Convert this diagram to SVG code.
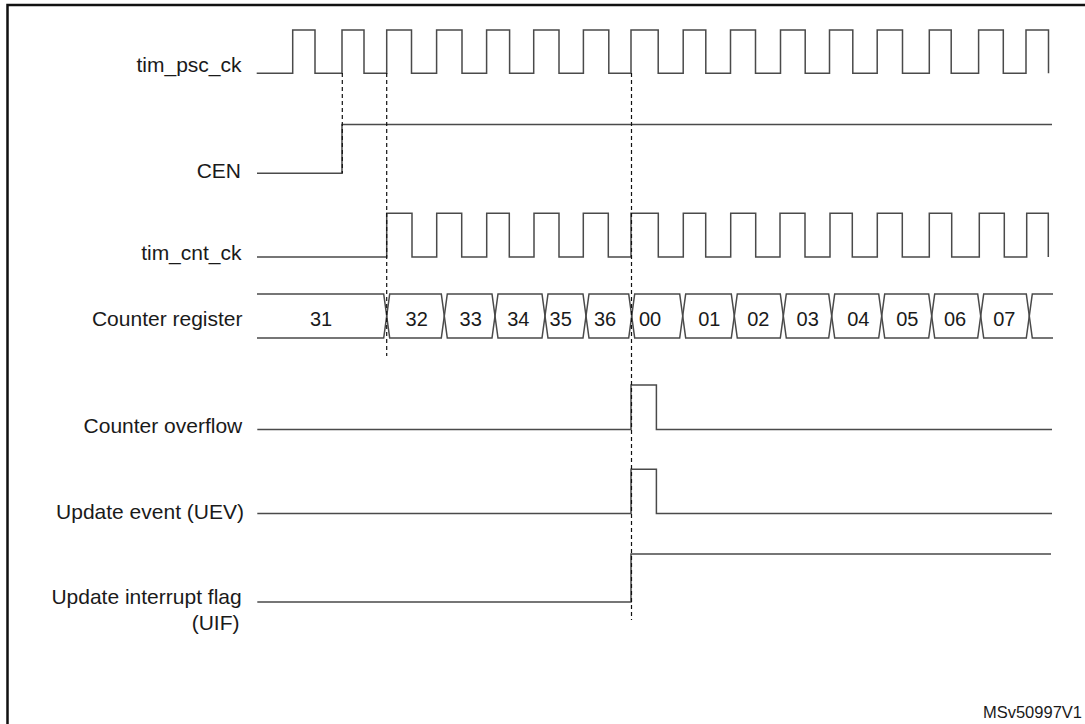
<svg xmlns="http://www.w3.org/2000/svg" width="1085" height="724" viewBox="0 0 1085 724">
<style>
.sig{fill:none;stroke:#4a4a4a;stroke-width:1.5;stroke-linejoin:miter}
.lbl{font-family:"Liberation Sans",Arial,sans-serif;font-size:21px;fill:#1a1a1a;text-anchor:end}
.val{font-family:"Liberation Sans",Arial,sans-serif;font-size:20px;fill:#1a1a1a;text-anchor:middle}
.dash{fill:none;stroke:#111;stroke-width:1.2;stroke-dasharray:4 3}
</style>
<rect x="0" y="0" width="1085" height="724" fill="#fff"/>
<path d="M7.5,724 V5 H1085" fill="none" stroke="#111" stroke-width="2.5"/>

<g id="tim_psc_ck">
<text class="lbl" x="241.5" y="71.7">tim_psc_ck</text>
<path class="sig" d="M256.7,73.3 H292.7 V30 H315 V73.3 H342 V30 H364 V73.3 H386.7 V30 H411.5 V73.3 H436.6 V30 H462 V73.3 H486.6 V30 H509.6 V73.3 H533.7 V30 H559 V73.3 H583.4 V30 H608.8 V73.3 H631 V30 H658.2 V73.3 H683.2 V30 H705.8 V73.3 H730.5 V30 H755.5 V73.3 H780.5 V30 H805.2 V73.3 H829.5 V30 H852.8 V73.3 H877.2 V30 H902.5 V73.3 H929.3 V30 H951.2 V73.3 H978.6 V30 H1003.3 V73.3 H1026 V30 H1048.5 V73.3"/>
</g>

<g id="CEN">
<text class="lbl" x="241" y="177.7">CEN</text>
<path class="sig" d="M257,173.3 H342 V124.5 H1052"/>
</g>

<g id="tim_cnt_ck">
<text class="lbl" x="241.5" y="260">tim_cnt_ck</text>
<path class="sig" d="M257,257 H386.7 V213.3 H412 V257 H436.7 V213.3 H461.7 V257 H486.7 V213.3 H509.3 V257 H534 V213.3 H559 V257 H583.3 V213.3 H608.3 V257 H631 V213.3 H658.3 V257 H683.3 V213.3 H705.7 V257 H730.7 V213.3 H755.7 V257 H780 V213.3 H805 V257 H830 V213.3 H852.3 V257 H877.3 V213.3 H902.3 V257 H929.3 V213.3 H951.7 V257 H979.3 V213.3 H1004.3 V257 H1026.7 V213.3 H1048.3 V257"/>
</g>

<g id="counter_register">
<text class="lbl" x="242.5" y="325.7">Counter register</text>
<path class="sig" d="M257,294 H383.7 L389.7,338 H441.3 L447.3,294 H492 L498,338 H542 L548,294 H583 L589,338 H628.7 L634.7,294 H679.7 L685.7,338 H731.3 L737.3,294 H780.3 L786.3,338 H828.7 L834.7,294 H878.7 L884.7,338 H928.7 L934.7,294 H977.7 L983.7,338 H1026.3 L1032.3,294 H1053"/>
<path class="sig" d="M257,338 H383.7 L389.7,294 H441.3 L447.3,338 H492 L498,294 H542 L548,338 H583 L589,294 H628.7 L634.7,338 H679.7 L685.7,294 H731.3 L737.3,338 H780.3 L786.3,294 H828.7 L834.7,338 H878.7 L884.7,294 H928.7 L934.7,338 H977.7 L983.7,294 H1026.3 L1032.3,338 H1053"/>
<text class="val" x="321" y="325.5">31</text>
<text class="val" x="416.7" y="325.5">32</text>
<text class="val" x="470.7" y="325.5">33</text>
<text class="val" x="518.3" y="325.5">34</text>
<text class="val" x="560.7" y="325.5">35</text>
<text class="val" x="605" y="325.5">36</text>
<text class="val" x="650" y="325.5">00</text>
<text class="val" x="709.3" y="325.5">01</text>
<text class="val" x="758.3" y="325.5">02</text>
<text class="val" x="807.7" y="325.5">03</text>
<text class="val" x="858.3" y="325.5">04</text>
<text class="val" x="907.3" y="325.5">05</text>
<text class="val" x="955" y="325.5">06</text>
<text class="val" x="1004.3" y="325.5">07</text>
</g>

<g id="counter_overflow">
<text class="lbl" x="242.3" y="433.3">Counter overflow</text>
<path class="sig" d="M257.3,429.5 H631 V385 H656.4 V429.5 H1052"/>
</g>

<g id="update_event">
<text class="lbl" x="244" y="519">Update event (UEV)</text>
<path class="sig" d="M257.3,513.5 H631 V469.3 H656.4 V513.5 H1052"/>
</g>

<g id="update_interrupt_flag">
<text class="lbl" x="241.7" y="604">Update interrupt flag</text>
<text class="lbl" x="239.5" y="630">(UIF)</text>
<path class="sig" d="M257.3,602 H631 V554 H1051"/>
</g>

<g id="connectors">
<line class="dash" x1="342.3" y1="73" x2="342.3" y2="173.3"/>
<line class="dash" x1="386.7" y1="73" x2="386.7" y2="356"/>
<line class="dash" x1="631.5" y1="73" x2="631.5" y2="620"/>
</g>

<text x="1082" y="718.3" style="font-family:'Liberation Sans',Arial,sans-serif;font-size:16.5px;fill:#1a1a1a;text-anchor:end">MSv50997V1</text>
</svg>
